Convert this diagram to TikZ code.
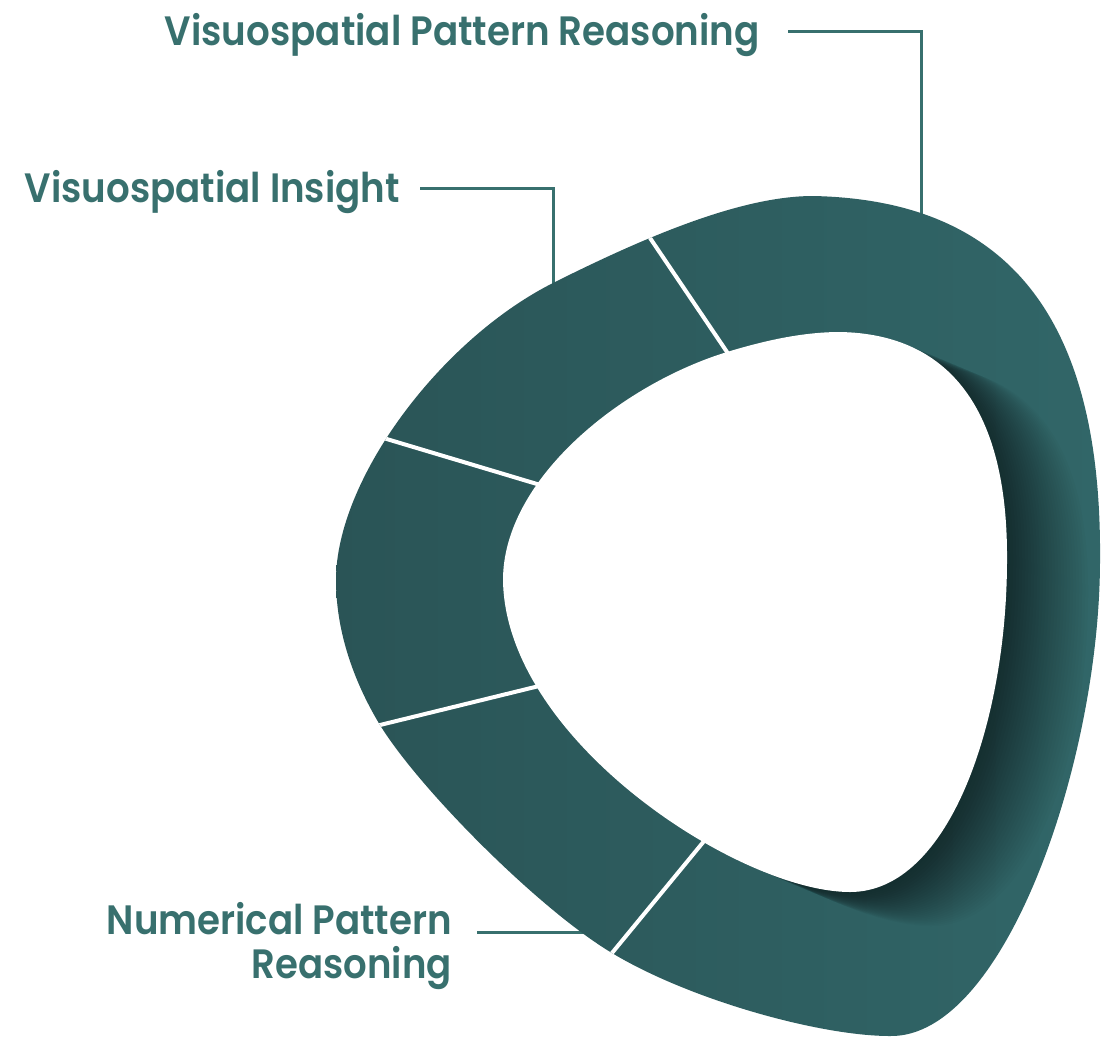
\documentclass[tikz,border=0pt]{standalone}
\usepackage{fontspec}
\usepackage{graphicx}
\newfontfamily\labfont{Poppins}[UprightFont={* SemiBold}]
\definecolor{labcol}{HTML}{38706E}
\definecolor{ringA}{HTML}{2A5456}
\definecolor{ringB}{HTML}{316668}
\begin{document}
\begin{tikzpicture}[x=1pt,y=-1pt,
  lab/.style={text=labcol, font=\labfont\fontsize{41}{44}\selectfont, inner sep=0pt},
  conn/.style={draw=labcol, line width=3pt},
  divider/.style={draw=white, line width=4pt, shorten <=-14pt, shorten >=-14pt}]
\useasboundingbox (0,0) rectangle (1103,1037);
\fill[white] (0,0) rectangle (1103,1037);
\def\outerpath{(336,580) .. controls (336,480) and (440,340) .. (553,283)
  .. controls (643,238) and (740,196) .. (813,196)
  .. controls (1010,200) and (1102,320) .. (1100,560)
  .. controls (1100,760) and (1005,1038) .. (890,1036)
  .. controls (820,1036) and (690,1000) .. (612,953)
  .. controls (540,910) and (420,790) .. (380,725)
  .. controls (360,692) and (336,640) .. (336,580) -- cycle}
\def\innerpath{(503,580) .. controls (503,480) and (620,385) .. (727,352)
  .. controls (760,342) and (800,332) .. (840,332)
  .. controls (950,334) and (1008,410) .. (1007,560)
  .. controls (1007,720) and (950,892) .. (850,892)
  .. controls (740,892) and (505,740) .. (503,580) -- cycle}
% labels
\node[lab, anchor=base east] (l1) at (760,45) {\resizebox{595pt}{\height}{Visuospatial Pattern Reasoning}};
\node[lab, anchor=base east] (l2) at (400,202) {\resizebox{375pt}{\height}{Visuospatial Insight}};
\node[lab, anchor=base east, align=right] (l3) at (452,978) {\resizebox{345pt}{\height}{Numerical Pattern}\\\resizebox{200pt}{\height}{Reasoning}};
% connector ends
\coordinate (s1) at (788,31);
\coordinate (p1) at (921,230);
\coordinate (s2) at (420,188);
\coordinate (p2) at (553,300);
\coordinate (s3) at (477,932);
\coordinate (p3) at (600,932);
\draw[conn] (s1) -| (p1);
\draw[conn] (s2) -| (p2);
\draw[conn] (s3) -- (p3);
% ring
\coordinate (d1o) at (648,235); \coordinate (d1i) at (727,352);
\coordinate (d2o) at (380,437); \coordinate (d2i) at (537,484);
\coordinate (d3o) at (380,725); \coordinate (d3i) at (535,687);
\coordinate (d4o) at (612,953); \coordinate (d4i) at (700,846);
\begin{scope}
  \clip \outerpath;
  \shade[left color=ringA, right color=ringB] (330,190) rectangle (1103,1037);
  \foreach \d in {3,6,...,81} {
    \fill[black, opacity=0.019, shift={(\d,0.42*\d)}] \innerpath;
  }
  \draw[divider] (d1o) -- (d1i);
  \draw[divider] (d2o) -- (d2i);
  \draw[divider] (d3o) -- (d3i);
  \draw[divider] (d4o) -- (d4i);
\end{scope}
\fill[white] \innerpath;
\end{tikzpicture}
\end{document}
